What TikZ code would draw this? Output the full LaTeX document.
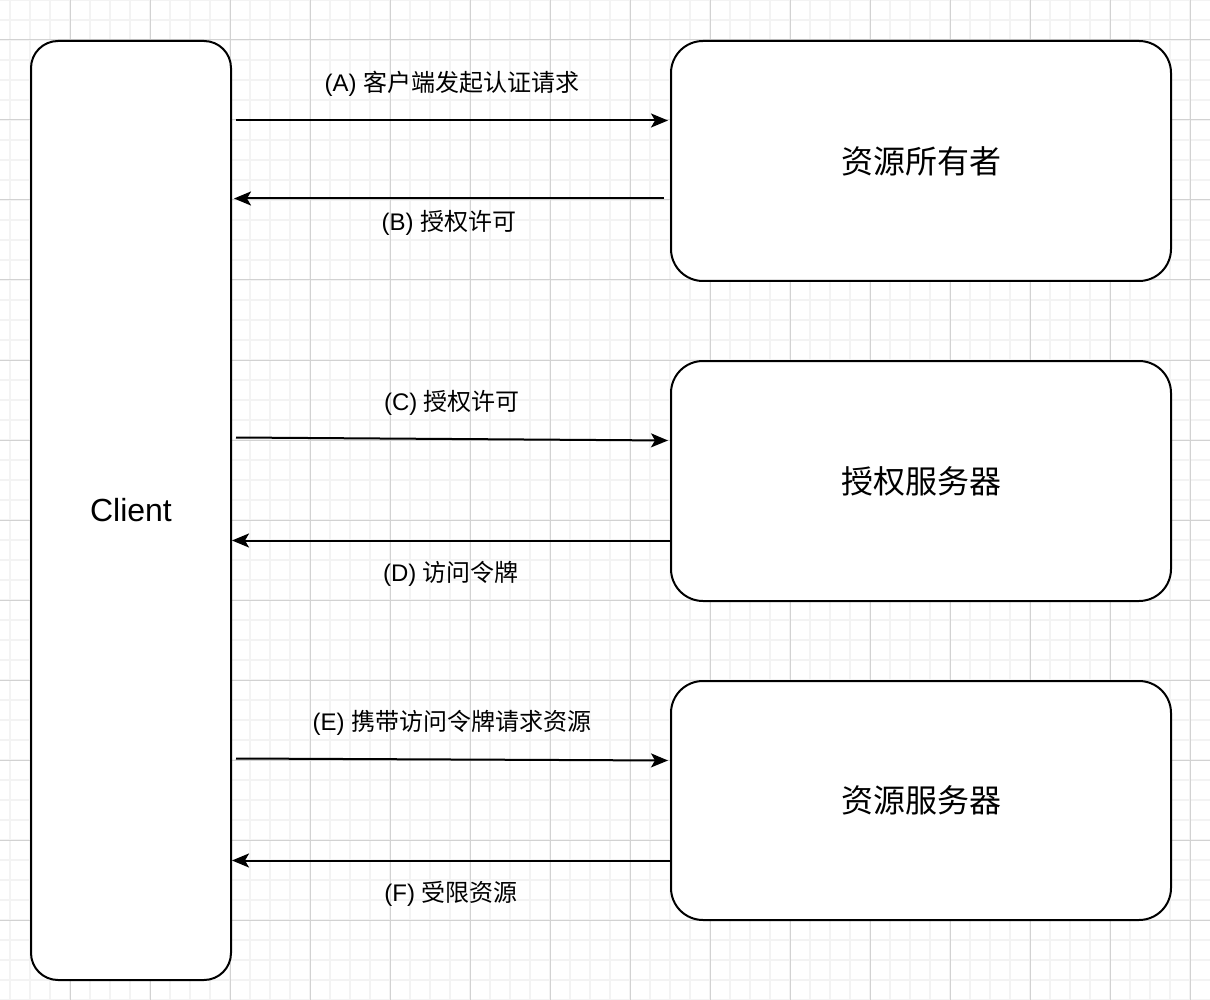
\documentclass[tikz,border=0pt]{standalone}
\usepackage{fontspec}
\setmainfont{Liberation Sans}
\newfontfamily\cjk{Noto Sans CJK SC}
\usepackage{tikz}
\usetikzlibrary{arrows.meta, positioning, calc}
\definecolor{gridminor}{RGB}{243,243,243}
\definecolor{gridmajor}{RGB}{210,210,210}

\begin{document}
\begin{tikzpicture}[
  x=1pt, y=-1pt,
  box/.style={draw, line width=2pt, fill=white, rounded corners=32pt,
              minimum width=500pt, minimum height=240pt, font=\fontsize{32}{36}\cjk},
  arr/.style={-{Stealth[length=17pt, width=14pt, inset=4pt]}, line width=2pt},
  lbl/.style={font=\fontsize{24}{28}\selectfont, midway},
]
\useasboundingbox (0,0) rectangle (1210,1000);

% grid
\foreach \gx in {10,30,...,1190} \draw[gridminor, line width=2pt] (\gx,0) -- (\gx,1000);
\foreach \gy in {0,20,...,1000} \draw[gridminor, line width=2pt] (0,\gy) -- (1210,\gy);
\foreach \gx in {70,150,...,1190} \draw[gridmajor, line width=1pt] (\gx,0) -- (\gx,1000);
\foreach \gy in {40,120,...,920} \draw[gridmajor, line width=1pt] (0,\gy) -- (1210,\gy);

% boxes
\node[box, rounded corners=27pt, minimum width=200pt, minimum height=939pt,
      font=\fontsize{32}{36}\selectfont] (client) at (131,510.5) {Client};
\node[box] (owner)   at (921,161)   {资源所有者};
\node[box] (authsrv) at (921,481)   {授权服务器};
\node[box, minimum height=239pt] (ressrv) at (921,800.5) {资源服务器};

% owner
\draw[arr] ($(owner.north west -| client.east)+(4,80.5)$) -- node[lbl, yshift=37]{(A) {\cjk 客户端发起认证请求}} ($(owner.north west)+(-2,80.5)$);
\draw[arr] ($(owner.north west)+(-6,158.5)$) -- node[lbl, yshift=-24]{(B) {\cjk 授权许可}} ($(owner.north west -| client.east)+(2,158.5)$);

% authorization server
\draw[arr] ($(authsrv.north west -| client.east)+(4,77.5)$) -- node[lbl, yshift=36]{(C) {\cjk 授权许可}} ($(authsrv.north west)+(-2,80.5)$);
\draw[arr] ($(authsrv.north west)+(0,180.5)$) -- node[lbl, yshift=-33]{(D) {\cjk 访问令牌}} ($(authsrv.north west -| client.east)+(0,180.5)$);

% resource server
\draw[arr] ($(ressrv.north west -| client.east)+(4,78.5)$) -- node[lbl, yshift=37]{(E) {\cjk 携带访问令牌请求资源}} ($(ressrv.north west)+(-2,80.5)$);
\draw[arr] ($(ressrv.north west)+(0,180.5)$) -- node[lbl, yshift=-33]{(F) {\cjk 受限资源}} ($(ressrv.north west -| client.east)+(0,180.5)$);

\end{tikzpicture}
\end{document}
